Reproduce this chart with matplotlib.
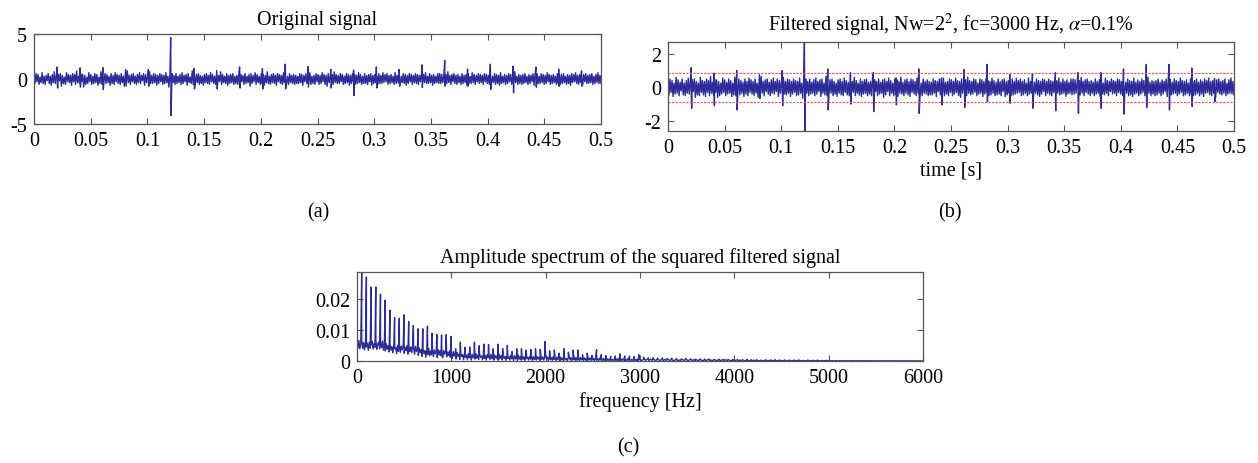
import numpy as np
import matplotlib
matplotlib.use("Agg")
import matplotlib.pyplot as plt

plt.rcParams['font.family'] = ['Liberation Serif', 'DejaVu Serif']
plt.rcParams['mathtext.fontset'] = 'stix'
plt.rcParams['font.size'] = 14

# ---------------- data ----------------
# impulse times (s)
imp_t = [0.0205, 0.0406, 0.0607, 0.0808, 0.1009, 0.1205, 0.1411, 0.1612, 0.1813, 0.2014,
         0.2215, 0.2416, 0.2617, 0.2818, 0.3019, 0.3220, 0.3421, 0.3622, 0.3823, 0.4024,
         0.4225, 0.4426, 0.4627, 0.4828]

# original signal: impulse peaks (up / down)
orig_up = [1.34, 1.23, 1.27, 1.05, 1.05, 4.6, 1.16, 0.93, 1.34, 1.16, 1.64, 1.38, 1.08, 0.97,
           1.34, 1.05, 1.57, 2.05, 1.1, 1.64, 1.42, 1.34, 1.1, 0.9]
orig_dn = [-1.0, -0.9, -1.15, -0.8, -0.8, -4.07, -1.1, -1.1, -1.0, -1.1, -1.1, -0.9, -1.0, -1.83,
           -1.0, -0.8, -0.95, -0.8, -0.8, -1.15, -1.53, -0.9, -0.8, -0.8]

# original signal: background noise samples (in tenths)
orig_noise_tenths = [
    4, -5, 6, -3, 5, -6, 2, -4, 7, -5, 3, -6, 4, -2, 6, -5, 3, -7, 5, -4,
    8, -5, 3, -6, 5, -2, 6, -8, 4, -5, 2, -6, 7, -3, 5, -4, 4, -7, 6, -3,
    5, -6, 9, -4, 3, -5, 6, -3, 5, -9, 4, -6, 2, -5, 7, -3, 5, -6, 3, -5,
    6, -4, 5, -7, 2, -5, 8, -6, 4, -3, 6, -5, 5, -4, 3, -7, 6, -5, 4, -6,
    7, -3, 5, -5, 4, -6, 6, -4, 3, -8, 5, -5, 9, -4, 4, -6, 5, -3, 6, -5,
    3, -6, 5, -4, 7, -5, 4, -2, 6, -7, 5, -4, 3, -6, 8, -5, 4, -5, 6, -4,
    5, -7, 4, -5, 6, -3, 5, -6, 4, -5, 7, -4, 3, -9, 5, -5, 6, -4, 4, -6,
    6, -5, 3, -4, 5, -6, 7, -5, 4, -3, 5, -7, 6, -4, 2, -5, 9, -6, 4, -5,
    5, -4, 6, -6, 4, -5, 3, -7, 5, -4, 6, -5, 4, -6, 7, -3, 5, -5, 3, -6,
    6, -5, 4, -3, 8, -6, 5, -4, 3, -5, 6, -7, 4, -5, 5, -4, 6, -6, 3, -5,
    4, -6, 7, -5, 5, -3, 4, -6, 6, -5, 3, -4, 5, -8, 6, -5, 4, -3, 7, -6,
    5, -4, 3, -6, 6, -5, 5, -7, 4, -4, 8, -5, 3, -6, 5, -4, 6, -5, 4, -7,
    6, -3, 5, -5, 4, -6, 7, -4, 5, -5, 3, -6, 6, -4, 4, -5, 5, -6, 4, -5,
    3, -5, 6, -4, 5, -7, 4, -3, 6, -5, 5, -4, 7, -6, 3, -5, 4, -6, 6, -3,
    5, -6, 4, -5, 7, -3, 5, -6, 4, -8, 6, -4, 3, -5, 5, -6, 8, -4, 5, -5,
    4, -5, 6, -3, 5, -6, 3, -5, 6, -4, 5, -7, 4, -5, 6, -3, 5, -6, 4, -5,
    7, -4, 5, -6, 3, -5, 6, -5, 4, -6, 5, -3, 6, -7, 4, -5, 5, -4, 3, -6,
    6, -5, 4, -5, 7, -4, 5, -3, 6, -6, 4, -5, 5, -4, 3, -6, 7, -5, 4, -4,
    5, -6, 3, -4, 6, -5, 5, -7, 4, -5, 6, -3, 5, -6, 4, -4, 6, -5, 5, -6,
    4, -3, 6, -6, 5, -4, 7, -5, 3, -5, 6, -4, 4, -7, 5, -5, 3, -4, 6, -5,
    6, -5, 5, -4, 3, -6, 5, -5, 8, -4, 4, -6, 5, -3, 6, -5, 4, -6, 5, -4,
    3, -6, 6, -5, 4, -4, 5, -7, 6, -5, 3, -5, 7, -4, 5, -6, 4, -3, 6, -5,
    5, -4, 4, -6, 6, -3, 5, -5, 4, -6, 7, -5, 3, -4, 6, -6, 5, -5, 4, -7,
    7, -5, 3, -4, 5, -6, 4, -5, 6, -3, 5, -6, 4, -5, 8, -4, 3, -6, 5, -5,
    4, -6, 5, -5, 6, -4, 3, -6, 5, -5, 4, -3, 6, -7, 5, -4, 6, -5, 3, -5,
    6, -4, 5, -6, 4, -5, 7, -3, 5, -6, 4, -5, 5, -4, 3, -6, 6, -5, 4, -6,
    5, -5, 6, -4, 3, -6, 5, -5, 4, -7, 6, -4, 5, -3, 7, -5, 4, -6, 5, -4,
    4, -6, 5, -3, 6, -5, 4, -5, 5, -4, 6, -6, 3, -5, 5, -4, 7, -5, 4, -5,
]

# filtered signal: impulse peaks (up / down)
filt_up = [1.17, 0.85, 1.0, 0.76, 1.0, 2.69, 1.1, 0.88, 0.88, 0.56, 1.1, 0.56, 1.07, 1.37,
           0.76, 0.8, 0.88, 0.88, 0.88, 1.1, 1.37, 1.37, 1.15, 0.52]
filt_dn = [-1.25, -1.1, -1.35, -0.66, -1.1, -2.59, -1.35, -1.0, -1.45, -1.05, -1.55, -1.05, -1.2,
           -0.86, -0.95, -1.25, -1.4, -1.55, -1.25, -1.6, -1.2, -1.35, -1.15, -0.86]

# filtered signal: background noise samples (in hundredths)
filt_noise_cents = [
    35, -45, 50, -30, 40, -55, 25, -40, 60, -35, 45, -50, 30, -20, 50, -45, 25, -50, 40, -35,
    55, -40, 30, -50, 45, -25, 50, -60, 35, -45, 25, -50, 60, -30, 40, -45, 35, -55, 50, -30,
    40, -50, 65, -35, 30, -45, 50, -30, 45, -60, 35, -50, 25, -40, 55, -30, 45, -50, 30, -40,
    50, -35, 40, -55, 25, -45, 60, -50, 35, -30, 50, -45, 40, -35, 30, -55, 50, -40, 35, -50,
    55, -30, 45, -40, 35, -50, 50, -35, 25, -60, 40, -45, 65, -35, 35, -50, 45, -25, 50, -40,
    30, -50, 45, -35, 55, -40, 35, -25, 50, -55, 40, -35, 30, -50, 60, -40, 35, -45, 50, -35,
    45, -55, 35, -40, 50, -30, 40, -50, 35, -45, 55, -35, 25, -65, 45, -40, 50, -35, 35, -50,
    50, -40, 30, -35, 45, -50, 55, -40, 35, -25, 45, -55, 50, -35, 25, -45, 65, -50, 35, -40,
    45, -35, 50, -50, 35, -40, 25, -55, 45, -35, 50, -45, 35, -50, 55, -30, 40, -45, 30, -50,
    50, -40, 35, -30, 60, -50, 40, -35, 25, -45, 50, -55, 35, -40, 45, -35, 50, -50, 30, -40,
    35, -50, 55, -40, 45, -25, 35, -50, 50, -40, 30, -35, 45, -60, 50, -45, 35, -25, 55, -50,
    40, -35, 25, -50, 50, -40, 45, -55, 35, -35, 60, -40, 30, -50, 45, -35, 50, -45, 35, -55,
    50, -30, 45, -40, 35, -50, 55, -35, 40, -45, 25, -50, 50, -35, 35, -40, 45, -50, 35, -45,
    30, -45, 50, -35, 40, -55, 35, -25, 50, -45, 40, -35, 55, -50, 30, -40, 35, -50, 50, -30,
    45, -50, 35, -40, 55, -30, 40, -50, 35, -60, 50, -35, 25, -45, 45, -50, 60, -35, 40, -45,
    35, -40, 50, -30, 45, -50, 25, -40, 50, -35, 45, -55, 35, -40, 50, -30, 40, -50, 35, -45,
    55, -35, 40, -50, 30, -45, 50, -40, 35, -50, 45, -25, 50, -55, 35, -45, 40, -35, 30, -50,
    50, -45, 35, -40, 55, -35, 40, -30, 50, -50, 35, -45, 45, -35, 25, -50, 55, -40, 35, -35,
    40, -50, 30, -35, 50, -45, 40, -55, 35, -40, 50, -25, 45, -50, 35, -35, 50, -45, 40, -50,
    35, -30, 50, -50, 40, -35, 55, -45, 30, -40, 50, -35, 35, -55, 45, -40, 30, -35, 50, -45,
    50, -40, 45, -35, 25, -50, 40, -45, 60, -35, 35, -50, 45, -30, 50, -40, 35, -50, 40, -35,
    30, -50, 50, -40, 35, -35, 45, -55, 50, -40, 25, -45, 55, -35, 40, -50, 35, -25, 50, -40,
    40, -35, 35, -50, 50, -30, 45, -40, 35, -50, 55, -40, 30, -35, 50, -50, 40, -45, 35, -55,
    55, -40, 30, -35, 45, -50, 35, -40, 50, -30, 40, -50, 35, -45, 60, -35, 30, -50, 40, -40,
    35, -50, 40, -45, 50, -35, 30, -50, 45, -40, 35, -25, 50, -55, 40, -35, 50, -45, 30, -40,
    50, -35, 40, -50, 35, -40, 55, -30, 40, -50, 35, -45, 45, -35, 25, -50, 50, -40, 35, -50,
    40, -45, 50, -35, 30, -50, 45, -40, 35, -55, 50, -35, 40, -30, 55, -45, 35, -50, 40, -35,
    35, -50, 45, -30, 50, -40, 35, -45, 40, -35, 50, -50, 25, -40, 45, -35, 55, -40, 35, -45,
]
threshold = 0.87

# spectrum: harmonic peaks (fundamental ~49.8 Hz) amplitudes
fund_hz = 49.8
peak_amp = [0.0285, 0.0269, 0.0237, 0.0237, 0.0214, 0.0195, 0.0163, 0.0139, 0.0137, 0.0148,
            0.0126, 0.0114, 0.0103, 0.0103, 0.0112, 0.0089, 0.0085, 0.0083, 0.0084, 0.0079,
            0.0039, 0.0060, 0.0044, 0.0045, 0.0060, 0.0049, 0.0054, 0.0052, 0.0039, 0.0054,
            0.0040, 0.0050, 0.0030, 0.0039, 0.0039, 0.0035, 0.0037, 0.0039, 0.0037, 0.0062,
            0.0033, 0.0035, 0.0025, 0.0040, 0.0028, 0.0035, 0.0035, 0.0020, 0.0025, 0.0018,
            0.0036, 0.0020, 0.0017, 0.0015, 0.0016, 0.0023, 0.0016, 0.0016, 0.0014, 0.0020,
            0.0012, 0.0010, 0.0011, 0.0009, 0.0010, 0.0008, 0.0009, 0.0008, 0.0007, 0.0008,
            0.0007, 0.0006, 0.0007, 0.0006, 0.0006, 0.0005, 0.0006, 0.0005, 0.0005, 0.0005,
            0.0004, 0.0004, 0.0005, 0.0004, 0.0004, 0.0003, 0.0004, 0.0003, 0.0004, 0.0003,
            0.0003, 0.0003, 0.0003, 0.0003, 0.0002, 0.0003, 0.0002, 0.0003, 0.0002, 0.0002]

# spectrum: noise floor, 0-3000 Hz (units of 1e-4)
floor_low = [
    58, 42, 66, 39, 55, 68, 40, 59, 36, 62, 45, 57, 34, 60, 41, 52, 63, 38, 56, 44, 65, 37, 54, 61, 39, 58, 43, 64, 35, 55,
    32, 56, 38, 49, 29, 54, 35, 46, 26, 51, 39, 43, 24, 50, 31, 55, 28, 47, 36, 52, 25, 44, 33, 49, 22, 48, 30, 45, 27, 50,
    44, 22, 47, 30, 39, 18, 42, 27, 36, 15, 39, 24, 33, 12, 36, 21, 40, 17, 32, 20,
    38, 14, 35, 23, 30, 11, 37, 19, 33, 16, 29, 10, 34, 22, 31, 13, 28, 18, 32, 12,
    27, 8, 30, 16, 24, 6, 28, 15, 22, 5, 26, 14, 20, 4, 25, 12, 19, 4, 23, 11, 18, 3, 22, 10, 17,
    6, 24, 9, 19, 5, 21, 12, 16, 4, 23, 8, 18, 3, 20, 11, 17, 5, 22, 7, 15, 3, 19, 10, 16, 4,
    3, 21, 9, 16, 3, 20, 8, 15, 2, 19, 8, 14, 3, 18, 7, 13, 2, 17, 7, 12, 2, 19, 6, 13, 3,
    16, 5, 14, 2, 18, 7, 12, 3, 15, 6, 17, 2, 13, 5, 16, 3, 14, 6, 12, 2, 15, 5, 13, 3, 14,
    16, 6, 12, 2, 15, 5, 11, 2, 14, 5, 10, 2, 13, 4, 10, 1, 12, 4, 9, 1, 11, 4, 8, 1, 10,
    13, 3, 11, 2, 9, 4, 12, 1, 10, 3, 8, 2, 11, 4, 9, 1, 10, 3, 8, 1, 9, 3, 10, 2, 8,
    3, 8, 1, 10, 3, 7, 1, 9, 3, 7, 1, 8, 2, 6, 1, 8, 2, 6, 1, 7, 2, 5, 1, 7, 2,
    6, 1, 8, 2, 5, 1, 7, 2, 6, 1, 5, 2, 7, 1, 6, 2, 5, 1, 6, 2, 5, 1, 6, 1, 5,
]
# spectrum: noise floor, 3000-6000 Hz (units of 1e-4)
floor_high = [
    5, 1, 6, 2, 5, 1, 6, 2, 4, 1, 5, 2, 4, 1, 5, 1, 4, 1, 4, 1, 4, 1, 3, 1, 4, 1, 5, 1, 4, 2,
    4, 1, 3, 1, 4, 1, 3, 1, 4, 1, 3, 1, 4, 1, 3, 1, 3, 1, 4, 1, 3, 0.5, 3, 1, 2.5, 0.5, 3, 1, 2.5, 0.5,
    2.5, 0.5, 2, 0.5, 2.5, 0.5, 2, 0.4, 2, 0.5, 1.8, 0.4, 2, 0.5, 1.8, 0.4, 1.6, 0.5, 1.8, 0.4, 1.6, 0.4, 1.5, 0.3, 1.6,
    0.4, 1.4, 0.3, 1.5, 0.4, 1.4, 0.3, 1.3, 0.3, 1.4, 0.3, 1.2, 0.3, 1.3, 0.3, 1.2, 0.3, 1.1, 0.2, 1.2, 0.3, 1.0, 0.2, 1.1, 0.2,
    1.0, 0.2, 1.0, 0.2, 0.9, 0.2, 1.0, 0.2, 0.9, 0.2, 0.8, 0.2, 0.9, 0.2, 0.8, 0.2, 0.8, 0.1, 0.7, 0.2, 0.8, 0.1, 0.7, 0.1, 0.7,
    0.1, 0.6, 0.1, 0.7, 0.1, 0.6, 0.1, 0.6, 0.1, 0.5, 0.1, 0.6, 0.1, 0.5, 0.1, 0.5, 0.1, 0.5, 0.1, 0.4, 0.1, 0.5, 0.1, 0.4, 0.1,
]

time_ticks = [0, 0.05, 0.1, 0.15, 0.2, 0.25, 0.3, 0.35, 0.4, 0.45, 0.5]
time_labels = ['0', '0.05', '0.1', '0.15', '0.2', '0.25', '0.3', '0.35', '0.4', '0.45', '0.5']
freq_ticks = [0, 1000, 2000, 3000, 4000, 5000, 6000]
spec_yticks = [0, 0.01, 0.02]
spec_ylabels = ['0', '0.01', '0.02']

# ---------------- helpers ----------------
LINE = '#2c2c9a'
FRAME = '#555555'


def build_signal(noise, times, up, dn, dt=0.0004):
    t_noise = np.linspace(0, 0.5, len(noise))
    t = np.concatenate([t_noise, np.array(times), np.array(times) + dt])
    y = np.concatenate([np.array(noise), np.array(up), np.array(dn)])
    order = np.argsort(t, kind='stable')
    return t[order], y[order]


def style_axes(ax):
    for s in ax.spines.values():
        s.set_color(FRAME)
        s.set_linewidth(0.9)
    ax.tick_params(direction='in', top=True, right=True, length=4, width=0.8,
                   color=FRAME, labelsize=14.5, pad=5)


fig = plt.figure(figsize=(12.58, 4.64), dpi=100)

# (a) original signal
ax1 = fig.add_axes([34 / 1258, 1 - 125 / 464, 567 / 1258, 90 / 464])
t1, y1 = build_signal(np.array(orig_noise_tenths) * 0.1, imp_t, orig_up, orig_dn)
ax1.plot(t1, y1, color=LINE, lw=1.0)
ax1.set_xlim(0, 0.5)
ax1.set_ylim(-5, 5)
ax1.set_yticks([-5, 0, 5])
ax1.set_yticklabels(['-5', '0', '5'])
ax1.set_xticks(time_ticks)
ax1.set_xticklabels(time_labels)
ax1.set_title('Original signal', fontsize=14.5, pad=7)
style_axes(ax1)

# (b) filtered signal
ax2 = fig.add_axes([668 / 1258, 1 - 131.7 / 464, 566 / 1258, 88.4 / 464])
t2, y2 = build_signal(np.array(filt_noise_cents) * 0.01, imp_t, filt_up, filt_dn)
ax2.plot(t2, y2, color=LINE, lw=1.0)
ax2.axhline(threshold, color='#ff4a4a', lw=0.8, ls=(0, (2, 1.2)))
ax2.axhline(-threshold, color='#ff4a4a', lw=0.8, ls=(0, (2, 1.2)))
ax2.set_xlim(0, 0.5)
ax2.set_ylim(min(y2), max(y2))
ax2.set_yticks([-2, 0, 2])
ax2.set_yticklabels(['-2', '0', '2'])
ax2.set_xticks(time_ticks)
ax2.set_xticklabels(time_labels)
ax2.set_xlabel('time [s]', fontsize=14.5, labelpad=3)
ax2.set_title(r'Filtered signal, Nw=2$^{2}$, fc=3000 Hz, $\alpha$=0.1%', fontsize=14.5, pad=9)
style_axes(ax2)

# (c) spectrum
ax3 = fig.add_axes([357 / 1258, 1 - 362 / 464, 566 / 1258, 89 / 464])
f_low = np.linspace(0, 3000, len(floor_low), endpoint=False)
f_high = np.linspace(3000, 6000, len(floor_high))
f_peaks = fund_hz * np.arange(1, len(peak_amp) + 1)
f_all = np.concatenate([f_low, f_high, f_peaks])
a_all = np.concatenate([np.array(floor_low) * 1e-4, np.array(floor_high) * 1e-4, np.array(peak_amp)])
order = np.argsort(f_all, kind='stable')
ax3.plot(f_all[order], a_all[order], color=LINE, lw=1.0)
ax3.set_xlim(0, 6000)
ax3.set_ylim(0, max(peak_amp))
ax3.set_xticks(freq_ticks)
ax3.set_xticklabels([str(v) for v in freq_ticks])
ax3.set_yticks(spec_yticks)
ax3.set_yticklabels(spec_ylabels)
ax3.set_xlabel('frequency [Hz]', fontsize=14.5, labelpad=3)
ax3.set_title('Amplitude spectrum of the squared filtered signal', fontsize=14.5, pad=7)
style_axes(ax3)

fig.text(318 / 1258, 1 - 213 / 464, '(a)', ha='center', va='center', fontsize=14.5)
fig.text(950 / 1258, 1 - 213 / 464, '(b)', ha='center', va='center', fontsize=14.5)
fig.text(628 / 1258, 1 - 448 / 464, '(c)', ha='center', va='center', fontsize=14.5)

fig.savefig('out.png', dpi=100)
